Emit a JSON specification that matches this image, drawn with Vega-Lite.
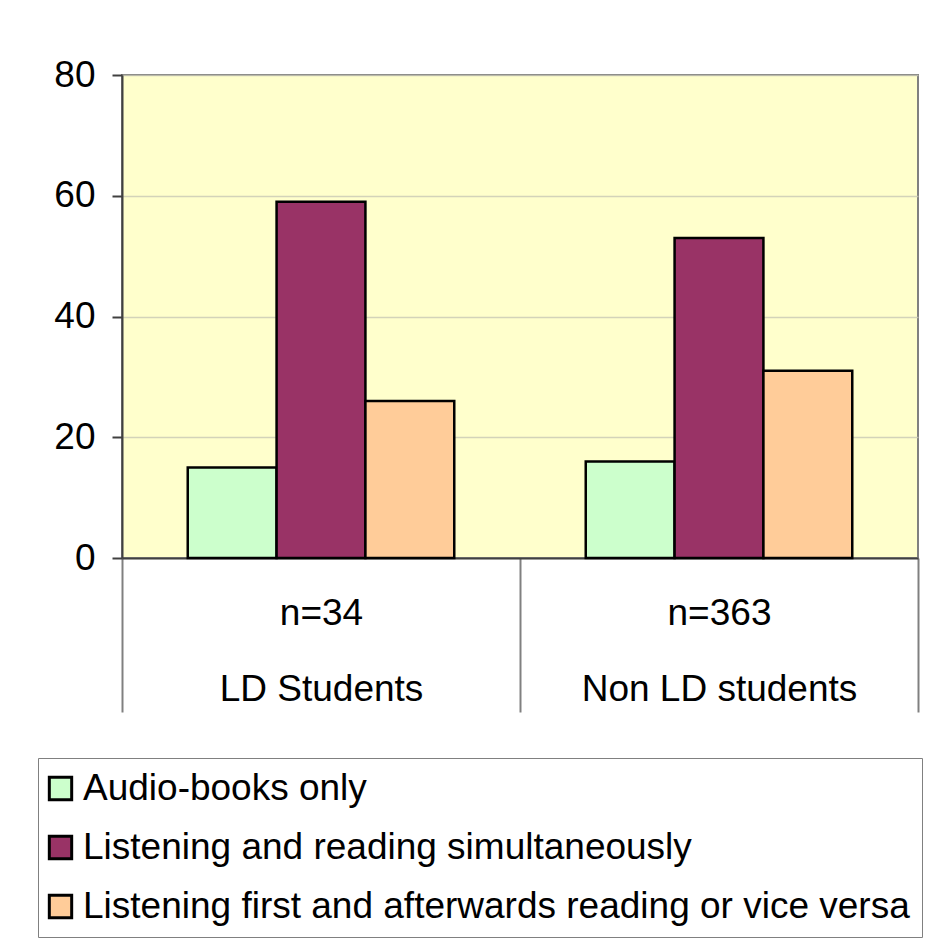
{
  "$schema": "https://vega.github.io/schema/vega-lite/v6.json",
  "width": 796,
  "height": 483,
  "autosize": {"type": "none"},
  "padding": {"left": 122, "top": 75, "right": 22, "bottom": 388},
  "background": "white",
  "data": {
    "values": [
      {"group": "LD Students", "method": "Audio-books only", "value": 15},
      {"group": "LD Students", "method": "Listening and reading simultaneously", "value": 59},
      {"group": "LD Students", "method": "Listening first and afterwards reading or vice versa", "value": 26},
      {"group": "Non LD students", "method": "Audio-books only", "value": 16},
      {"group": "Non LD students", "method": "Listening and reading simultaneously", "value": 53},
      {"group": "Non LD students", "method": "Listening first and afterwards reading or vice versa", "value": 31}
    ]
  },
  "mark": {"type": "bar", "stroke": "black", "strokeWidth": 2.5},
  "encoding": {
    "x": {
      "field": "group",
      "type": "nominal",
      "sort": ["LD Students", "Non LD students"],
      "scale": {"paddingInner": 0, "paddingOuter": 0},
      "axis": {
        "title": null,
        "labelAngle": 0,
        "labelExpr": "datum.label == 'LD Students' ? ['n=34', 'LD Students'] : (datum.label == 'Non LD students' ? ['n=363', 'Non LD students'] : '')",
        "tickBand": "extent",
        "tickSize": 154,
        "tickColor": "#808080",
        "tickWidth": 2,
        "domainColor": "#404040",
        "domainWidth": 2,
        "labelFont": "Liberation Sans",
        "labelFontSize": 37,
        "labelColor": "#000000",
        "labelLimit": 500,
        "labelPadding": -117,
        "labelLineHeight": 76,
        "labelBaseline": "top"
      }
    },
    "xOffset": {
      "field": "method",
      "type": "nominal",
      "sort": ["Audio-books only", "Listening and reading simultaneously", "Listening first and afterwards reading or vice versa"],
      "scale": {"paddingInner": 0, "paddingOuter": 0.74}
    },
    "y": {
      "field": "value",
      "type": "quantitative",
      "scale": {"domain": [0, 80]},
      "axis": {
        "title": null,
        "values": [0, 20, 40, 60, 80],
        "tickSize": 10,
        "tickColor": "#404040",
        "tickWidth": 2,
        "domainColor": "#404040",
        "domainWidth": 2,
        "labelFont": "Liberation Sans",
        "labelFontSize": 37,
        "labelColor": "#000000",
        "labelPadding": 17,
        "gridColor": "#c8c8b4",
        "gridOpacity": 0.8,
        "gridWidth": 1.5
      }
    },
    "color": {
      "field": "method",
      "type": "nominal",
      "scale": {
        "domain": ["Audio-books only", "Listening and reading simultaneously", "Listening first and afterwards reading or vice versa"],
        "range": ["#CCFFCC", "#993366", "#FFCC99"]
      },
      "legend": {
        "title": null,
        "orient": "none",
        "legendX": -84,
        "legendY": 683,
        "strokeColor": "#808080",
        "fillColor": "white",
        "padding": 12,
        "labelFont": "Liberation Sans",
        "labelFontSize": 37,
        "labelColor": "#000000",
        "labelLimit": 1000,
        "labelOffset": 4,
        "symbolOffset": -8,
        "symbolType": "square",
        "symbolSize": 500,
        "symbolStrokeColor": "black",
        "symbolStrokeWidth": 3,
        "rowPadding": 21
      }
    }
  },
  "config": {
    "view": {"fill": "#FFFFCC", "stroke": "#808080", "strokeWidth": 2}
  }
}
